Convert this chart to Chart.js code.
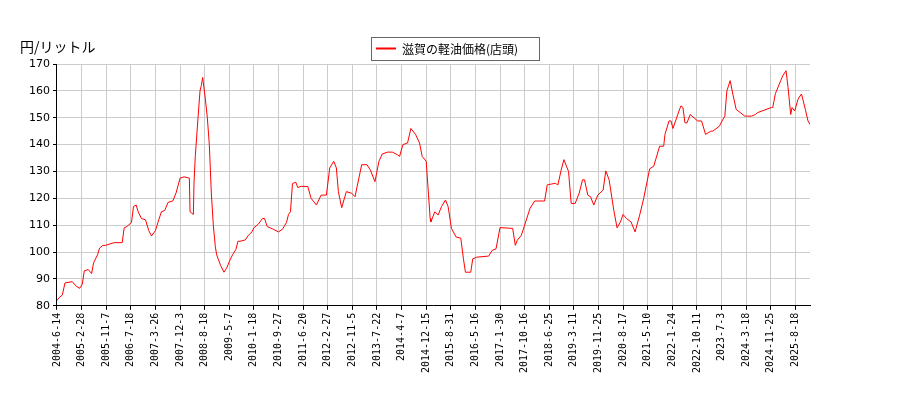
<!DOCTYPE html>
<html>
<head>
<meta charset="utf-8">
<script src="https://cdn.jsdelivr.net/npm/chart.js@4"></script>
<style>body{margin:0;background:#fff}#wrap{width:900px;height:400px}</style>
</head>
<body>
<div id="wrap"><canvas id="myChart"></canvas></div>
<script>
// 週番号 (2004-06-14 = 0)
const weeks = [0,3,8,12,23,28,34,38,41,47,52,55,61,64,69,73,79,86,98,101,105,112,115,119,122,127,133,138,142,148,153,157,162,167,174,179,185,191,199,200,205,206,208,212,215,217,219,220,223,226,229,232,235,238,240,243,246,251,255,260,264,269,272,275,283,287,293,296,303,309,312,316,325,333,339,345,348,351,354,359,362,
  367,377,382,390,397,405,410,416,420,423,428,435,443,448,458,466,471,478,484,489,497,504,512,515,520,527,532,539,545,549,555,561,562,568,573,578,584,588,593,600,607,611,614,622,625,631,649,654,660,666,685,689,692,698,703,711,718,733,737,749,753,758,762,769,773,779,785,790,793,798,802,807,813,821,825,830,837,842,847,851,856,863,869,876,882,891,897,906,912,914,920,923,926,935,938,941,944,947,952,963,969,975,983,986,996,998,1004,1007,1012,1016,1021,1034,1044,1050,1053,1074,1076,1080,1088,1091,1096,1099,1103,1105,1109,1114,1119,1120,1125,1129,1132];
const prices = [82,83,84,88.5,89,87.5,86.5,88,93,93.5,92,96,99,101.5,102.5,102.5,103,103.5,103.5,109,109.5,111,117,117.5,115,112.5,112,108,106,108,112,115,115.5,118.5,119,122,127.5,128,127.5,115,114,126,136,150,160,162,165,163,157,150,140,122,110,102,99,97,95,92.5,94,97,99,101,104,104,104.5,106,107.5,109,110.5,112.5,112.5,109.5,108.5,107.5,108.5,111,114,115,125.5,126,124,
  124.5,124.4,120,117.5,121.2,121.2,131.3,133.8,131.3,122.5,116.5,122.5,121.9,120.6,132.5,132.5,130.6,126.2,133.8,136.5,137.2,137.2,136.2,135.6,140,140.6,146,143.8,140.6,135.6,133.8,112.5,111.2,115,113.8,116.9,119.4,116.9,108.8,105.6,105.2,97.5,92.5,92.5,97.5,98.1,98.5,100.6,101.2,109.1,108.8,102.5,104.4,106.2,110,116.2,119,119,125,125.6,125,130.6,134.4,130,118.1,118.1,121.9,126.9,126.9,121.2,120.6,117.5,121.2,123.1,130.2,126.9,115.6,109,111.2,114,112.5,111.2,107.5,113.8,120,131,131.9,139.4,139.4,143.8,148.8,148.8,146,152.5,154.4,153.8,148.1,148.1,151.2,148.8,148.8,143.8,145,145,146.9,148,150.6,160,163.8,158.8,153.1,150.6,150.6,151.2,151.9,153.8,153.8,159,163.8,165.6,167.5,161.2,151.2,153.8,152.5,156.9,158.8,158.1,153.1,148.8,147.5,145.5];
const yTicks = [80,90,100,110,120,130,140,150,160,170];
const xLabels = ['2004-6-14','2005-2-28','2005-11-7','2006-7-18','2007-3-26','2007-12-3','2008-8-18','2009-5-7','2010-1-18','2010-9-27','2011-6-20','2012-2-27','2012-11-5','2013-7-22','2014-4-7','2014-12-15','2015-8-31','2016-5-16','2017-1-30','2017-10-16','2018-6-25','2019-3-11','2019-11-25','2020-8-17','2021-5-10','2022-1-24','2022-10-11','2023-7-3','2024-3-18','2024-11-25','2025-8-18'];
const tickStep = 37;

const extras = {
  id: 'extras',
  afterDraw(chart) {
    const c = chart.ctx;
    c.save();
    c.strokeStyle = '#666';
    c.lineWidth = 1;
    c.strokeRect(371.5, 37.5, 168, 23);
    c.strokeStyle = '#ff0000';
    c.lineWidth = 2;
    c.beginPath(); c.moveTo(376, 48.5); c.lineTo(396, 48.5); c.stroke();
    c.fillStyle = '#000';
    c.textBaseline = 'middle';
    c.font = '12px "Noto Sans CJK JP"';
    c.fillText('滋賀の軽油価格(店頭)', 402, 49);
    c.font = '14px "Noto Sans CJK JP"';
    c.fillText('円/リットル', 20, 47);
    c.restore();
  }
};

new Chart(document.getElementById('myChart'), {
  type: 'line',
  data: {
    datasets: [{
      label: '滋賀の軽油価格(店頭)',
      data: weeks.map((w, i) => ({x: w, y: prices[i]})),
      borderColor: '#ff0000',
      borderWidth: 1,
      pointRadius: 0,
      tension: 0
    }]
  },
  options: {
    responsive: true,
    maintainAspectRatio: false,
    animation: false,
    layout: {padding: {left: 26, right: 90, top: 64, bottom: 24}},
    plugins: {tooltip: {enabled: false}, legend: {display: false}},
    scales: {
      x: {
        type: 'linear', min: 0, max: 1132,
        afterBuildTicks(ax) {
          ax.ticks = xLabels.map((l, i) => ({value: i * tickStep}));
        },
        ticks: {
          callback: v => xLabels[Math.round(v / tickStep)],
          maxRotation: 90, minRotation: 90, autoSkip: false,
          color: '#000', font: {family: 'DejaVu Sans Mono', size: 10}
        },
        grid: {color: '#cccccc', tickColor: '#000', tickLength: 4},
        border: {color: '#000'}
      },
      y: {
        min: 80, max: 170,
        afterBuildTicks(ax) { ax.ticks = yTicks.map(v => ({value: v})); },
        ticks: {color: '#000', font: {family: 'DejaVu Sans', size: 11}},
        grid: {color: '#cccccc', tickColor: '#000', tickLength: 4},
        border: {color: '#000'}
      }
    }
  },
  plugins: [extras]
});
</script>
</body>
</html>
